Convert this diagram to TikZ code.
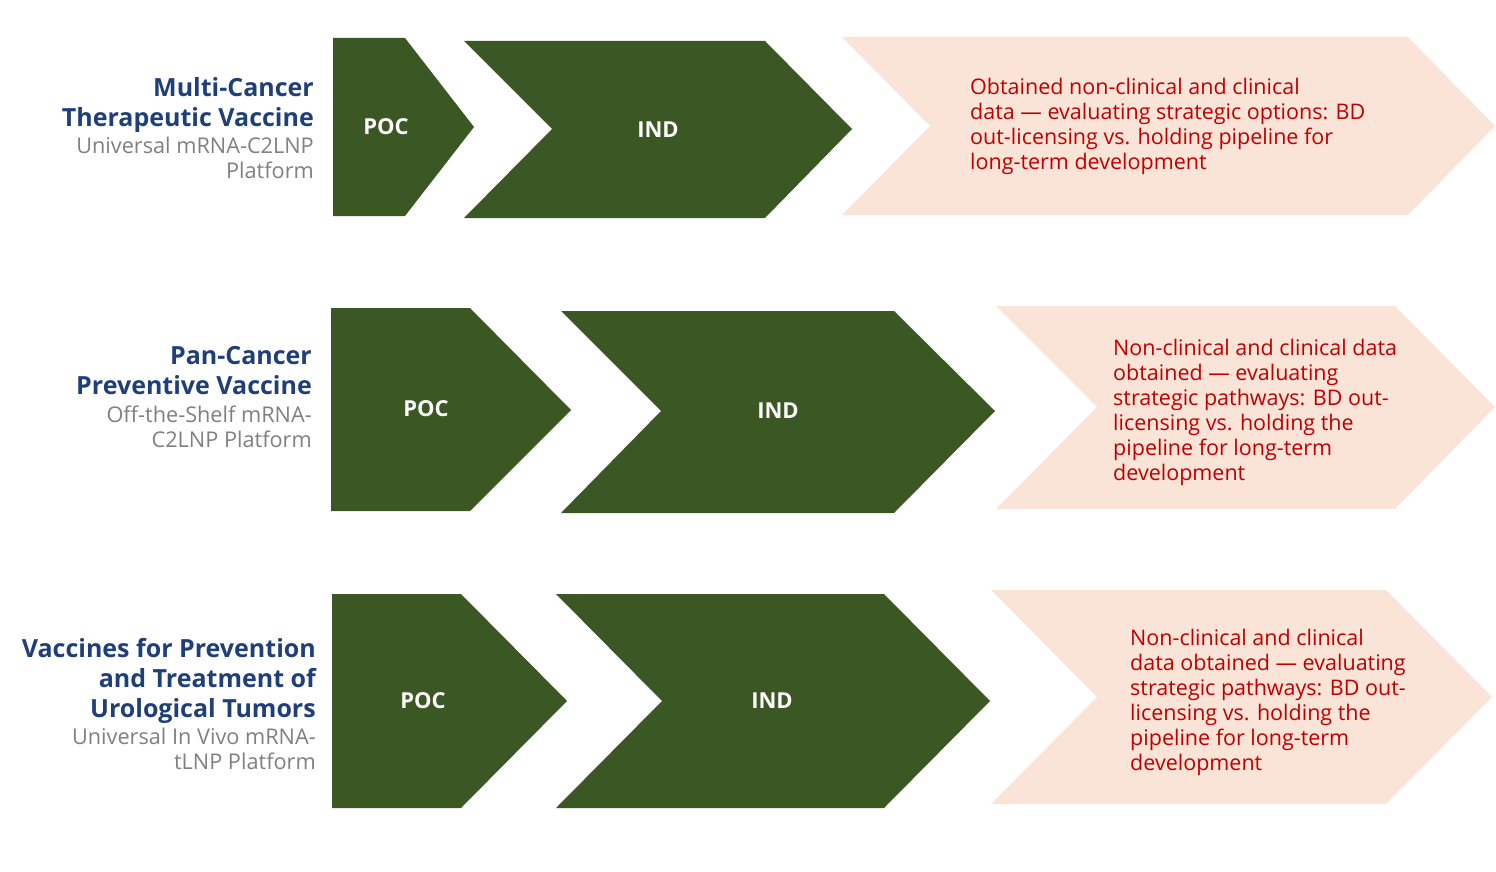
\documentclass[tikz,border=0pt]{standalone}
\usepackage{fontspec}
\setmainfont{Open Sans}
\definecolor{grn}{HTML}{3B5724}
\definecolor{pnk}{HTML}{FAE4D7}
\definecolor{ttlc}{HTML}{1F3F78}
\definecolor{subc}{HTML}{808080}
\definecolor{rdc}{HTML}{C00000}
\begin{document}
\begin{tikzpicture}[x=1pt,y=-1pt,
  stg/.style={text=white, font=\fontsize{22}{26}\selectfont\bfseries, inner sep=0pt},
  ttl/.style={anchor=north east, align=right, text=ttlc, font=\fontsize{25}{30}\selectfont\bfseries, inner sep=0pt},
  subt/.style={anchor=north east, align=right, text=subc, font=\fontsize{21.7}{25.5}\selectfont, inner sep=0pt},
  note/.style={anchor=north west, align=left, text=rdc, font=\fontsize{21.5}{25}\selectfont, inner sep=0pt},
  greenshape/.style={fill=grn},
  pinkshape/.style={fill=pnk}]
\useasboundingbox (0,0) rectangle (1496,872);
% Row 1
\fill[greenshape] (333,38) -- (405,38) -- (474,127) -- (405,216) -- (333,216) -- cycle;
\fill[greenshape] (464,41) -- (765,41) -- (852,129) -- (765,218) -- (464,218) -- (552,129) -- cycle;
\fill[pinkshape] (842,37) -- (1408,37) -- (1495,126) -- (1408,215) -- (842,215) -- (930,126) -- cycle;
\node[stg] (poc1) at (386,127) {POC};
\node[stg] (ind1) at (658,130) {IND};
\node[ttl] (t1) at (314,77) {Multi-Cancer\\Therapeutic Vaccine};
\node[subt] (s1) at (314,136.5) {Universal mRNA-C2LNP\\Platform};
\node[note] (n1) at (970,78.4) {Obtained non-clinical and clinical\\data --- evaluating strategic options: BD\\out-licensing vs. holding pipeline for\\long-term development};
% Row 2
\fill[greenshape] (331,308) -- (470,308) -- (571,410) -- (470,511) -- (331,511) -- cycle;
\fill[greenshape] (561,311) -- (894,311) -- (995,411) -- (894,513) -- (561,513) -- (661,411) -- cycle;
\fill[pinkshape] (996,306) -- (1395,306) -- (1495,407) -- (1395,509) -- (996,509) -- (1097,407) -- cycle;
\node[stg] (poc2) at (426,409) {POC};
\node[stg] (ind2) at (778,411) {IND};
\node[ttl] (t2) at (312,346) {Pan-Cancer\\Preventive Vaccine};
\node[subt] (s2) at (312,405.5) {Off-the-Shelf mRNA-\\C2LNP Platform};
\node[note] (n2) at (1113,339.4) {Non-clinical and clinical data\\obtained --- evaluating\\strategic pathways: BD out-\\licensing vs. holding the\\pipeline for long-term\\development};
% Row 3
\fill[greenshape] (332,594) -- (461,594) -- (567,701) -- (461,808) -- (332,808) -- cycle;
\fill[greenshape] (556,594) -- (884,594) -- (990,701) -- (884,808) -- (556,808) -- (662,701) -- cycle;
\fill[pinkshape] (991,590) -- (1386,590) -- (1492,697) -- (1386,804) -- (991,804) -- (1097,697) -- cycle;
\node[stg] (poc3) at (423,701) {POC};
\node[stg] (ind3) at (772,701) {IND};
\node[ttl] (t3) at (316,638) {Vaccines for Prevention\\and Treatment of\\Urological Tumors};
\node[subt] (s3) at (316,727.5) {Universal In Vivo mRNA-\\tLNP Platform};
\node[note] (n3) at (1130,629.4) {Non-clinical and clinical\\data obtained --- evaluating\\strategic pathways: BD out-\\licensing vs. holding the\\pipeline for long-term\\development};
\end{tikzpicture}
\end{document}
